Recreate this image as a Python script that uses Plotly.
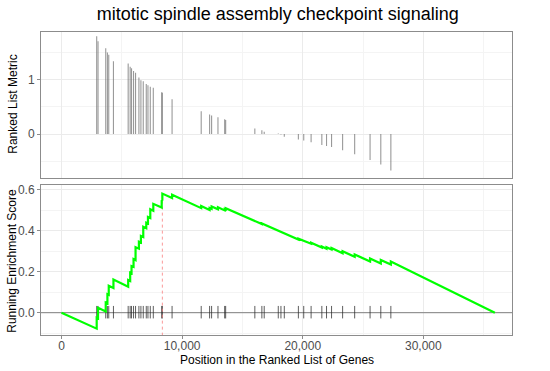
import plotly.graph_objects as go

# ---- data ----
hit_pos = [2917, 3028, 3667, 3806, 3917, 4306, 5528, 5694, 5806, 5972, 6139, 6417,
           6583, 6778, 7028, 7167, 7361, 7611, 8306, 8361, 9167, 11583, 12278, 12444,
           12972, 13528, 13611, 16028, 16611, 16806, 17972, 18194, 18472, 19639, 20083,
           20694, 21583, 21972, 22389, 23306, 24306, 25583, 26472, 27306]
hit_metric = [1.80, 1.71, 1.58, 1.50, 1.46, 1.34, 1.30, 1.24, 1.21, 1.16, 1.13, 1.04,
              0.99, 0.97, 0.92, 0.90, 0.87, 0.85, 0.77, 0.76, 0.64, 0.42, 0.36, 0.34,
              0.31, 0.27, 0.26, 0.10, 0.07, 0.04, 0.01, -0.01, -0.05, -0.10, -0.12,
              -0.15, -0.20, -0.22, -0.24, -0.30, -0.37, -0.48, -0.56, -0.67]

# running enrichment score path (vertices)
es_x = [0, 2917, 2917, 3028, 3028, 3667, 3667, 3806, 3806, 3917, 3917, 4306, 4306,
        5528, 5528, 5694, 5694, 5806, 5806, 5972, 5972, 6139, 6139, 6417, 6417,
        6583, 6583, 6778, 6778, 7028, 7028, 7167, 7167, 7361, 7361, 7611, 7611,
        8306, 8306, 8361, 8361, 9167, 9167, 11583, 11583, 12278, 12278, 12444, 12444,
        12972, 12972, 13528, 13528, 13611, 13611, 16028, 16028, 16611, 16611,
        16806, 16806, 17972, 17972, 18194, 18194, 18472, 18472, 19639, 19639,
        20083, 20083, 20694, 20694, 21583, 21583, 21972, 21972, 22389, 22389,
        23306, 23306, 24306, 24306, 25583, 25583, 26472, 26472, 27306, 27306, 35930]
es_y = [0.0, -0.078, -0.025, -0.028, 0.024, 0.006, 0.050, 0.046, 0.090, 0.087, 0.132,
        0.121, 0.162, 0.127, 0.160, 0.155, 0.196, 0.193, 0.228, 0.224, 0.262, 0.257,
        0.320, 0.313, 0.347, 0.343, 0.375, 0.370, 0.420, 0.413, 0.440, 0.436, 0.468,
        0.463, 0.505, 0.498, 0.532, 0.514, 0.550, 0.548, 0.582, 0.560, 0.577, 0.511,
        0.521, 0.502, 0.512, 0.508, 0.519, 0.505, 0.515, 0.500, 0.506, 0.504, 0.511,
        0.445, 0.449, 0.433, 0.436, 0.431, 0.433, 0.401, 0.402, 0.396, 0.397, 0.388,
        0.390, 0.358, 0.362, 0.350, 0.354, 0.337, 0.342, 0.318, 0.324, 0.313, 0.320,
        0.309, 0.316, 0.290, 0.300, 0.273, 0.285, 0.250, 0.265, 0.240, 0.258, 0.235,
        0.250, 0.0]

peak_x = 8361
peak_es = 0.582
title_text = "mitotic spindle assembly checkpoint signaling"
x_ticks = [0, 10000, 20000, 30000]

# ---- build traces ----
bar_x, bar_y = [], []
for p, m in zip(hit_pos, hit_metric):
    bar_x += [p, p, None]
    bar_y += [0, m, None]

tick_x, tick_y = [], []
for p in hit_pos:
    tick_x += [p, p, None]
    tick_y += [-0.028, 0.033, None]

fig = go.Figure()
fig.add_trace(go.Scatter(x=bar_x, y=bar_y, mode="lines", xaxis="x2", yaxis="y2",
                         line=dict(color="rgba(110,110,110,0.7)", width=1.1),
                         hoverinfo="skip", showlegend=False))
fig.add_trace(go.Scatter(x=[-5000, 45000], y=[0, 0], mode="lines",
                         line=dict(color="#808080", width=1), showlegend=False))
fig.add_trace(go.Scatter(x=tick_x, y=tick_y, mode="lines",
                         line=dict(color="rgba(40,40,40,0.75)", width=1),
                         showlegend=False))
fig.add_trace(go.Scatter(x=[peak_x, peak_x], y=[-0.2, peak_es], mode="lines",
                         line=dict(color="#FA7F7F", width=0.8, dash="3px,3px"),
                         showlegend=False))
fig.add_trace(go.Scatter(x=es_x, y=es_y, mode="lines",
                         line=dict(color="#00FF00", width=2.2), showlegend=False))

grid = "#EBEBEB"
border = "#8C8C8C"
font = "Liberation Sans, Arial, sans-serif"
xr = [-1700, 37350]

common_x = dict(range=xr, showline=True, mirror=True, linecolor=border, linewidth=1,
                showgrid=True, gridcolor=grid, gridwidth=1, zeroline=False,
                automargin=False,
                tickvals=x_ticks, minor=dict(dtick=5000, tick0=0, showgrid=True,
                                             gridcolor="#F4F4F4", gridwidth=0.6))

fig.update_layout(
    width=550, height=371, plot_bgcolor="white", paper_bgcolor="white",
    margin=dict(l=41, r=38, t=32, b=36, autoexpand=False),
    font=dict(family=font, size=12, color="#4D4D4D"),
    title=dict(text=title_text, x=0.505, xanchor="center", y=1 - 14 / 371,
               yanchor="middle", font=dict(size=18, color="black", family=font)),
    xaxis=dict(**common_x, domain=[0, 1], anchor="y", ticks="outside", ticklen=3,
               tickcolor=border, tickformat=",d", ticklabelstandoff=-3,
               tickfont=dict(size=12, color="#4D4D4D")),
    xaxis2=dict(**common_x, domain=[0, 1], anchor="y2", showticklabels=False,
                ticks="", matches="x"),
    yaxis=dict(domain=[0, 0.495], range=[-0.109, 0.624], showline=True, mirror=True,
               linecolor=border, linewidth=1, showgrid=True, gridcolor=grid,
               zeroline=False, tickvals=[0, 0.2, 0.4, 0.6], tickformat=".1f",
               ticks="outside", ticklen=3, tickcolor=border, automargin=False,
               minor=dict(dtick=0.1, tick0=0, showgrid=True, gridcolor="#F4F4F4",
                          gridwidth=0.6)),
    yaxis2=dict(domain=[0.518, 1], range=[-0.81, 1.878], showline=True, mirror=True,
                linecolor=border, linewidth=1, showgrid=True, gridcolor=grid,
                zeroline=False, tickvals=[0, 1], ticks="outside", ticklen=3,
                tickcolor=border, anchor="x2", automargin=False,
                minor=dict(dtick=0.5, tick0=0, showgrid=True, gridcolor="#F4F4F4",
                           gridwidth=0.6)),
    annotations=[
        dict(text="Ranked List Metric", xref="paper", yref="paper", x=-28 / 471,
             y=0.76, xanchor="center", yanchor="middle", textangle=-90,
             showarrow=False, font=dict(size=12, color="black", family=font)),
        dict(text="Running Enrichment Score", xref="paper", yref="paper",
             x=-29 / 471, y=0.245, xanchor="center", yanchor="middle",
             textangle=-90, showarrow=False,
             font=dict(size=12, color="black", family=font)),
        dict(text="Position in the Ranked List of Genes", xref="paper", yref="paper",
             x=0.5, y=-(360 - 335) / 303, xanchor="center", yanchor="middle",
             showarrow=False, font=dict(size=12, color="black", family=font)),
    ],
)

fig.write_html("out.html", config={"displayModeBar": False},
               post_script="document.body.style.margin='0';document.body.style.overflow='hidden';")
